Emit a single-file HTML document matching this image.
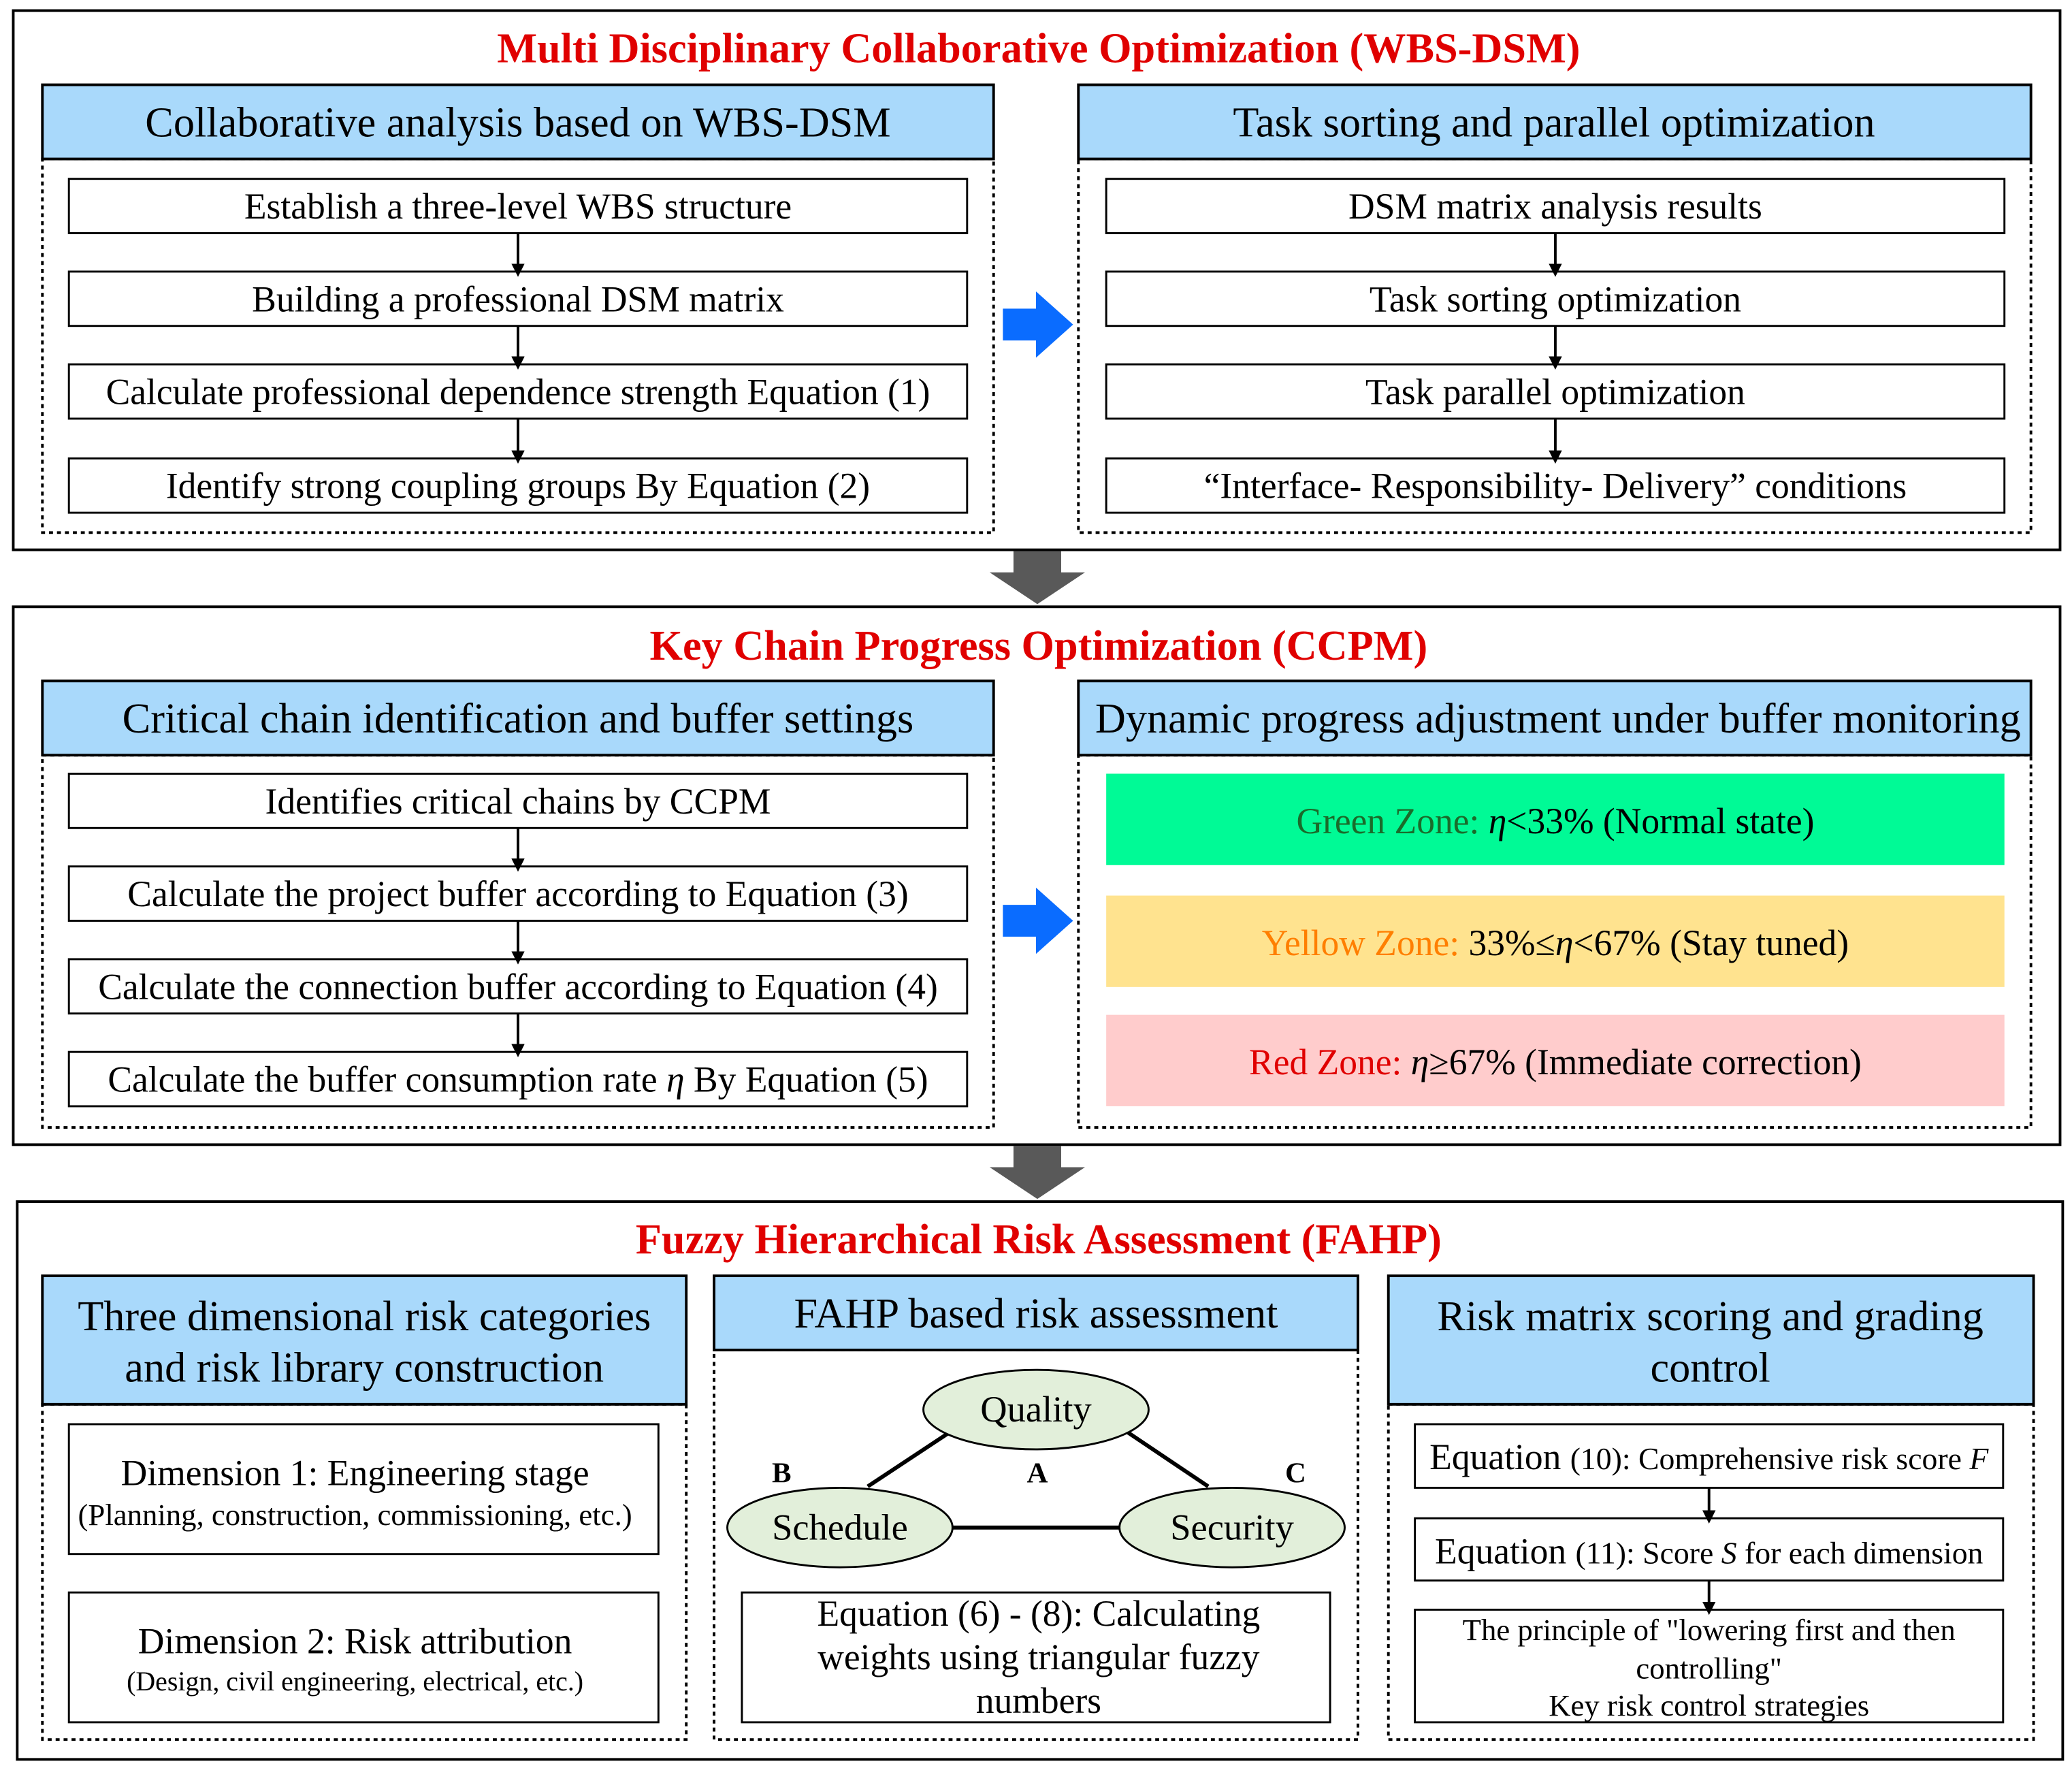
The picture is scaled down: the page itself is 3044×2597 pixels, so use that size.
<!DOCTYPE html>
<html><head><meta charset="utf-8"><style>
html,body{margin:0;padding:0;background:#fff;}
svg{display:block;}
text{font-family:"Liberation Serif","Noto Serif CJK SC",serif;}
</style></head><body>
<svg width="3044" height="2597" viewBox="0 0 1564 1334.5" preserveAspectRatio="none" xmlns="http://www.w3.org/2000/svg">
<defs>
<marker id="ah" markerWidth="10" markerHeight="10" refX="5" refY="5" orient="auto" markerUnits="userSpaceOnUse"><path d="M0,0 L10,5 L0,10 z" fill="#000"/></marker>
</defs>
<g fill="none" stroke="#000" stroke-width="2">
<rect x="10" y="8" width="1545" height="407"/>
<rect x="10" y="458" width="1545" height="406"/>
<rect x="13" y="907" width="1544" height="421"/>
</g>
<g font-weight="bold" fill="#e00000" font-size="32" text-anchor="middle">
<text x="784" y="47">Multi Disciplinary Collaborative Optimization (WBS-DSM)</text>
<text x="784" y="498">Key Chain Progress Optimization (CCPM)</text>
<text x="784" y="946">Fuzzy Hierarchical Risk Assessment (FAHP)</text>
</g>
<g fill="none" stroke="#000" stroke-width="2" stroke-dasharray="3,3">
<rect x="32" y="120" width="718" height="282"/>
<rect x="814" y="120" width="719" height="282"/>
<rect x="32" y="570" width="718" height="281"/>
<rect x="814" y="570" width="719" height="281"/>
<rect x="32" y="1060" width="486" height="253"/>
<rect x="539" y="1019" width="486" height="294"/>
<rect x="1048" y="1060" width="487" height="253"/>
</g>
<g fill="#a9d9fb" stroke="#000" stroke-width="2">
<rect x="32" y="64" width="718" height="56"/>
<rect x="814" y="64" width="719" height="56"/>
<rect x="32" y="514" width="718" height="56"/>
<rect x="814" y="514" width="719" height="56"/>
<rect x="32" y="963" width="486" height="97"/>
<rect x="539" y="963" width="486" height="56"/>
<rect x="1048" y="963" width="487" height="97"/>
</g>
<g font-size="32" text-anchor="middle" fill="#000">
<text x="391" y="103">Collaborative analysis based on WBS-DSM</text>
<text x="1173" y="103">Task sorting and parallel optimization</text>
<text x="391" y="553">Critical chain identification and buffer settings</text>
<text x="1176" y="553">Dynamic progress adjustment under buffer monitoring</text>
<text x="275" y="1004">Three dimensional risk categories</text>
<text x="275" y="1043">and risk library construction</text>
<text x="782" y="1002">FAHP based risk assessment</text>
<text x="1291" y="1004">Risk matrix scoring and grading</text>
<text x="1291" y="1043">control</text>
</g>
<g fill="#fff" stroke="#000" stroke-width="1.5">
<rect x="52" y="135" width="678" height="41"/><rect x="52" y="205" width="678" height="41"/>
<rect x="52" y="275" width="678" height="41"/><rect x="52" y="346" width="678" height="41"/>
<rect x="835" y="135" width="678" height="41"/><rect x="835" y="205" width="678" height="41"/>
<rect x="835" y="275" width="678" height="41"/><rect x="835" y="346" width="678" height="41"/>
<rect x="52" y="584" width="678" height="41"/><rect x="52" y="654" width="678" height="41"/>
<rect x="52" y="724" width="678" height="41"/><rect x="52" y="794" width="678" height="41"/>
<rect x="52" y="1075" width="445" height="98"/><rect x="52" y="1202" width="445" height="98"/>
<rect x="560" y="1202" width="444" height="98"/>
<rect x="1068" y="1075" width="444" height="48"/><rect x="1068" y="1146" width="444" height="47"/>
<rect x="1068" y="1215" width="444" height="85"/>
</g>
<rect x="835" y="584" width="678" height="69" fill="#00fa96"/>
<rect x="835" y="676" width="678" height="69" fill="#ffe38f"/>
<rect x="835" y="766" width="678" height="69" fill="#ffcccc"/>
<g stroke="#000" stroke-width="2" marker-end="url(#ah)">
<line x1="391" y1="176" x2="391" y2="204"/><line x1="391" y1="246" x2="391" y2="274"/><line x1="391" y1="316" x2="391" y2="345"/>
<line x1="1174" y1="176" x2="1174" y2="204"/><line x1="1174" y1="246" x2="1174" y2="274"/><line x1="1174" y1="316" x2="1174" y2="345"/>
<line x1="391" y1="625" x2="391" y2="653"/><line x1="391" y1="695" x2="391" y2="723"/><line x1="391" y1="765" x2="391" y2="793"/>
<line x1="1290" y1="1123" x2="1290" y2="1145"/><line x1="1290" y1="1193" x2="1290" y2="1214"/>
</g>
<g font-size="27.5" text-anchor="middle" fill="#000">
<text x="391" y="165">Establish a three-level WBS structure</text>
<text x="391" y="235">Building a professional DSM matrix</text>
<text x="391" y="305">Calculate professional dependence strength  Equation (1)</text>
<text x="391" y="376">Identify strong coupling groups By Equation (2)</text>
<text x="1174" y="165">DSM matrix analysis results</text>
<text x="1174" y="235">Task sorting optimization</text>
<text x="1174" y="305">Task parallel optimization</text>
<text x="1174" y="376">“Interface- Responsibility- Delivery” conditions</text>
<text x="391" y="614">Identifies critical chains by CCPM</text>
<text x="391" y="684">Calculate the project buffer according to Equation (3)</text>
<text x="391" y="754">Calculate the connection buffer according to Equation (4)</text>
<text x="391" y="824">Calculate the buffer consumption rate <tspan font-style="italic">η</tspan> By Equation (5)</text>
<text x="1174" y="629"><tspan fill="#1a6b2a">Green Zone: </tspan><tspan font-style="italic">η</tspan>&lt;33% (Normal state)</text>
<text x="1174" y="721"><tspan fill="#ff7f00">Yellow Zone: </tspan>33%≤<tspan font-style="italic">η</tspan>&lt;67% (Stay tuned)</text>
<text x="1174" y="811"><tspan fill="#e00000">Red Zone: </tspan><tspan font-style="italic">η</tspan>≥67% (Immediate correction)</text>
<text x="268" y="1121">Dimension 1: Engineering stage</text>
<text x="268" y="1248">Dimension 2: Risk attribution</text>
<text x="784" y="1227">Equation (6) - (8): Calculating</text>
<text x="784" y="1260">weights using triangular fuzzy</text>
<text x="784" y="1293">numbers</text>
<text x="1290" y="1109">Equation <tspan font-size="23.5">(10): Comprehensive risk score <tspan font-style="italic">F</tspan></tspan></text>
<text x="1290" y="1180">Equation <tspan font-size="23.5">(11): Score <tspan font-style="italic">S</tspan> for each dimension</tspan></text>
</g>
<g font-size="23" text-anchor="middle" fill="#000">
<text x="268" y="1151">(Planning, construction, commissioning, etc.)</text>
<text x="268" y="1276" font-size="20.5">(Design, civil engineering, electrical, etc.)</text>
<text x="1290" y="1238">The principle of "lowering first and then</text>
<text x="1290" y="1267">controlling"</text>
<text x="1290" y="1295">Key risk control strategies</text>
</g>
<g stroke="#000" stroke-width="3">
<line x1="718" y1="1153" x2="846" y2="1153"/>
<line x1="655" y1="1122" x2="720" y2="1079"/>
<line x1="848" y1="1079" x2="912" y2="1122"/>
</g>
<g fill="#e2efda" stroke="#000" stroke-width="1.5">
<ellipse cx="782" cy="1064" rx="85" ry="30"/>
<ellipse cx="634" cy="1153" rx="85" ry="30"/>
<ellipse cx="930" cy="1153" rx="85" ry="30"/>
</g>
<g font-size="28" text-anchor="middle" fill="#000">
<text x="782" y="1073">Quality</text>
<text x="634" y="1162">Schedule</text>
<text x="930" y="1162">Security</text>
</g>
<g font-size="22" font-weight="bold" text-anchor="middle" fill="#000">
<text x="590" y="1119">B</text><text x="783" y="1119">A</text><text x="978" y="1119">C</text>
</g>
<g fill="#0a6cff">
<path d="M757,233 L782,233 L782,220 L810,245 L782,270 L782,257 L757,257 z"/>
<path d="M757,683 L782,683 L782,670 L810,695 L782,720 L782,707 L757,707 z"/>
</g>
<g fill="#595959">
<path d="M765,416 L801,416 L801,432 L819,432 L783,456 L747,432 L765,432 z"/>
<path d="M765,865 L801,865 L801,881 L819,881 L783,905 L747,881 L765,881 z"/>
</g>
</svg>
</body></html>
